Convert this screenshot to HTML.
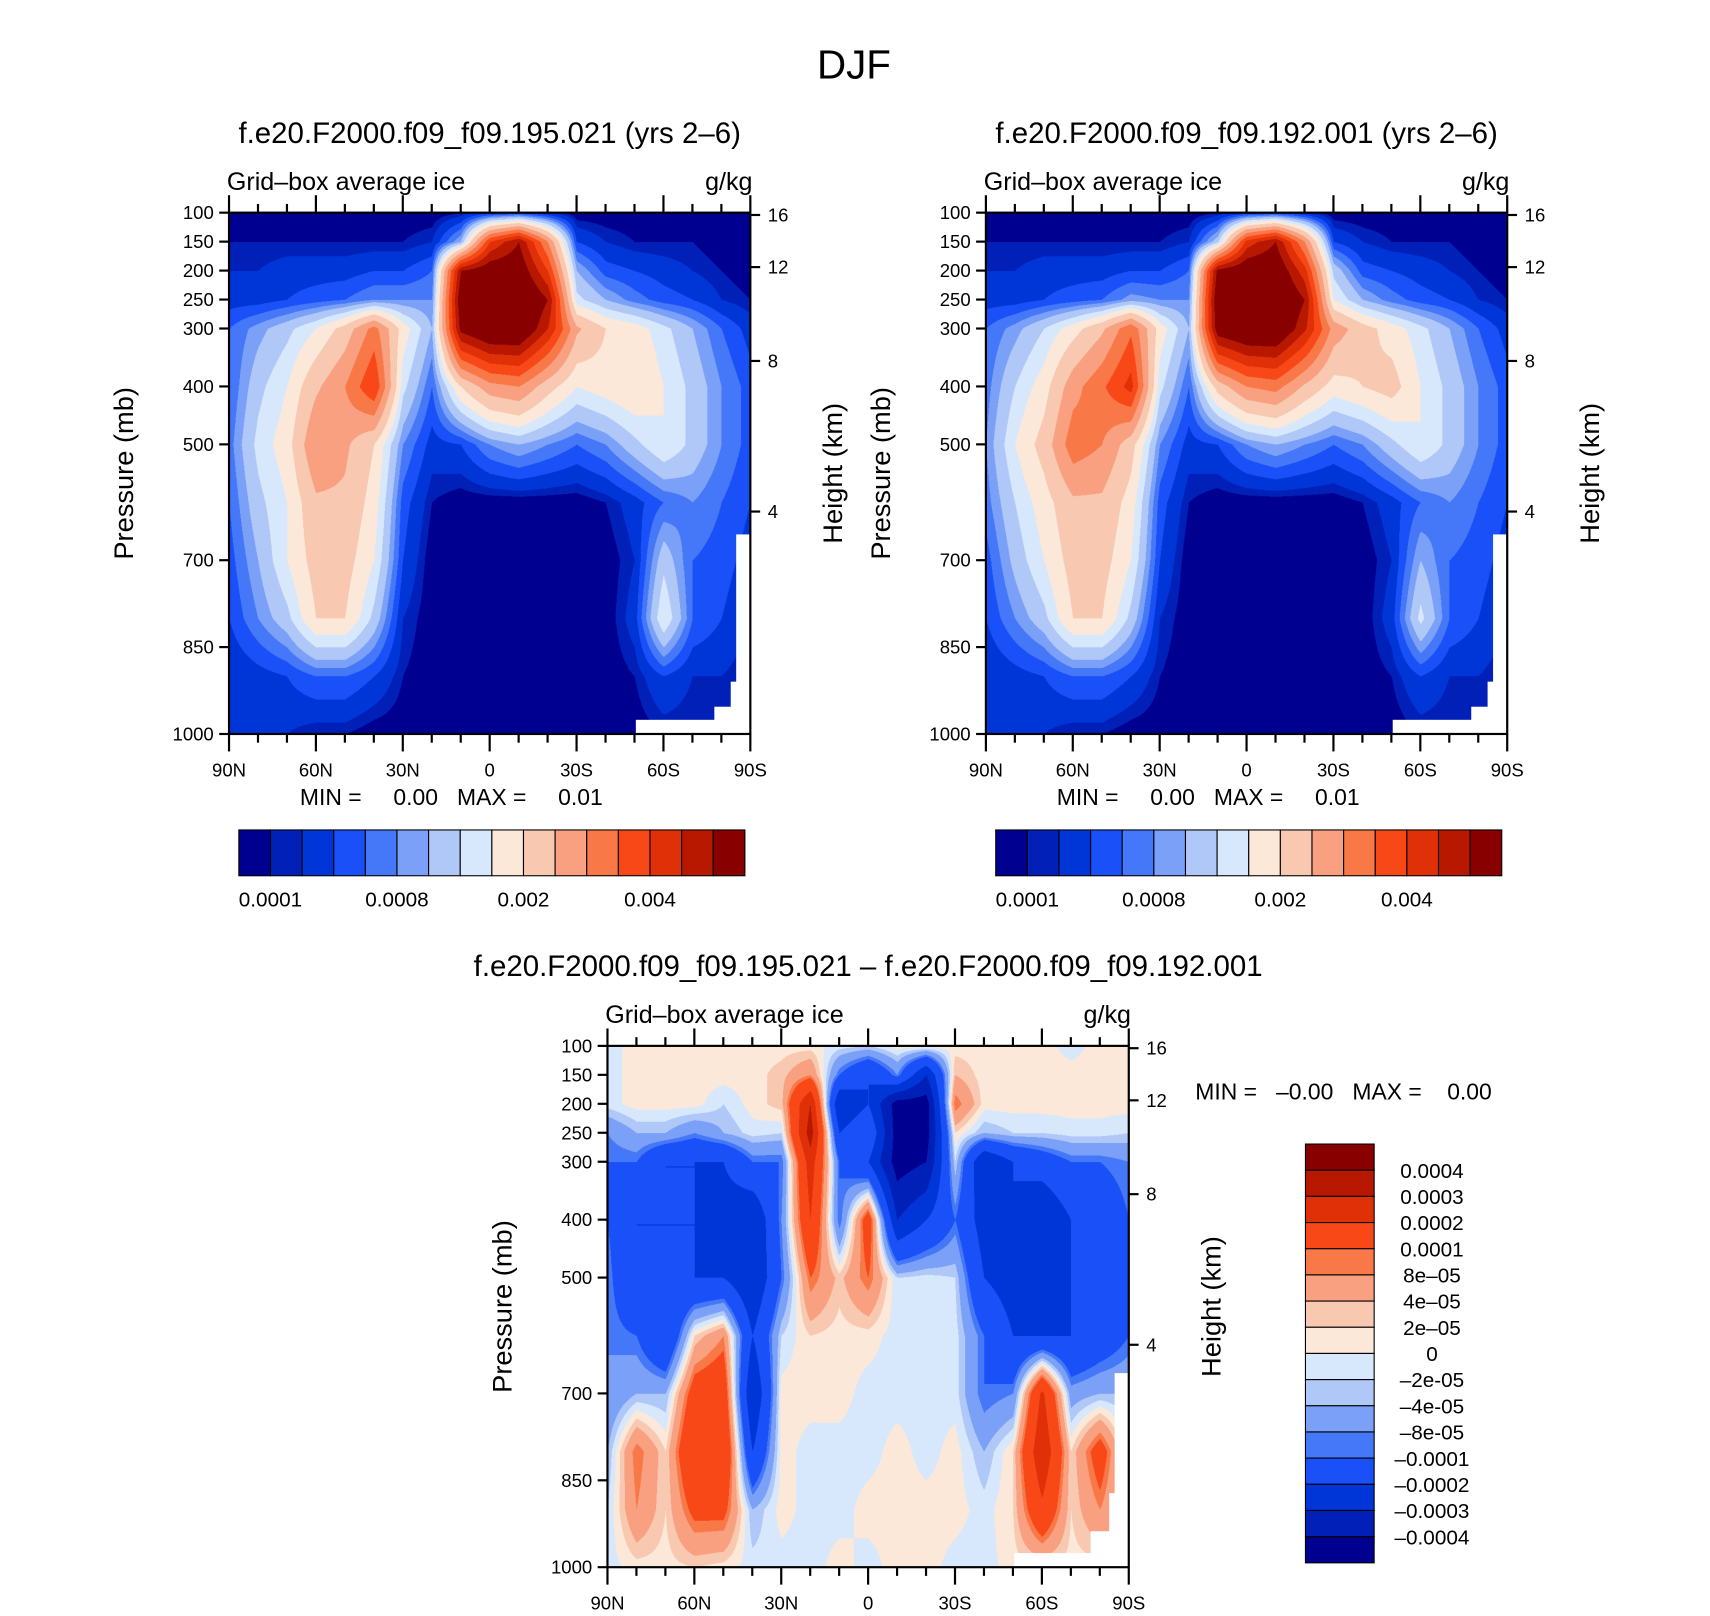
<!DOCTYPE html>
<html><head><meta charset="utf-8">
<style>
html,body{margin:0;padding:0;background:#fff;}
body{width:1710px;height:1616px;overflow:hidden;position:relative;}
#root{position:absolute;left:0;top:0;width:1568px;height:1482px;transform:scale(1.0906);transform-origin:0 0;}
canvas{position:absolute;}
svg{position:absolute;left:0;top:0;}
text{font-family:"Liberation Sans",sans-serif;fill:#000;}
</style></head>
<body>
<div id="root">
<canvas id="c1"></canvas>
<canvas id="c2"></canvas>
<canvas id="c3"></canvas>
<svg id="s" width="1568" height="1482" viewBox="0 0 1568 1482"></svg>
</div>
<script>
const lats=[90,80,70,60,50,40,30,20,10,0,-10,-20,-30,-40,-50,-60,-70,-80,-90];
const levels=[100,150,200,250,300,400,500,600,700,800,900,1000];
const colors=["#000090","#0020b8","#0035d8","#1a50f8","#4478f8","#7aa0f8","#b0c8f8","#d8e8fc","#fce8d8","#f8c8b0","#f8a080","#f87848","#f84818","#e03008","#b81800","#880000"];
// panel 1/2 values in units of 1e-4 g/kg
const thrA=[1,2,4,6,8,10,13,16,20,25,30,35,40,45,50];
const cbLabelsA=["0.0001","0.0008","0.002","0.004"];
const cbLabelIdxA=[1,5,9,13];
const dataA=[
[0,0,0,0,0,0,0,0,1,3,4,2,0,0,0,0,0,0,0],
[1,1,1,1,1,1,1,2,10,40,50,30,4,2,1,1,1,0,0],
[2,2,3,3,3,4,4,6,50,55,55,40,10,5,4,3,2,1,0],
[3,3,4,5,6,8,8,8,55,60,60,50,14,10,7,5,4,2,1],
[6,9,12,16,22,32,18,10,52,58,58,45,26,20,18,14,10,6,3],
[6,12,16,24,30,40,14,6,20,28,30,22,16,18,20,16,12,8,5],
[7,14,18,30,26,20,8,3,4,8,10,8,6,8,12,16,12,8,5],
[6,12,16,24,24,18,5,1,0,0,0,0,0,1,3,6,8,6,4],
[5,10,16,22,22,16,4,0,0,0,0,0,0,0,2,12,6,5,3],
[4,8,12,20,20,12,2,0,0,0,0,0,0,0,3,16,6,4,2],
[2,3,4,6,6,4,1,0,0,0,0,0,0,0,1,4,2,2,1],
[2,2,2,1,1,0,0,0,0,0,0,0,0,0,0,1,1,1,1]];
const dataB=[
[0,0,0,0,0,0,0,0,1,3,4,2,0,0,0,0,0,0,0],
[1,1,1,1,1,1,1,2,12,42,50,30,4,2,1,1,1,0,0],
[2,2,3,3,3,4,4,6,52,56,56,42,12,5,4,3,2,1,0],
[3,3,4,5,6,9,8,8,56,60,60,50,16,10,7,5,4,2,1],
[6,9,13,18,24,34,18,10,54,58,58,46,28,22,18,14,10,6,3],
[7,13,18,28,34,42,14,6,22,30,32,24,18,20,22,16,12,8,5],
[8,16,22,33,30,22,8,3,4,8,10,8,6,8,12,16,12,8,5],
[7,13,18,24,24,18,5,1,0,0,0,0,0,1,3,6,8,6,4],
[5,11,16,22,22,16,4,0,0,0,0,0,0,0,2,10,6,5,3],
[4,8,12,20,20,12,2,0,0,0,0,0,0,0,3,14,6,4,2],
[2,3,4,6,6,4,1,0,0,0,0,0,0,0,1,4,2,2,1],
[2,2,2,1,1,0,0,0,0,0,0,0,0,0,0,1,1,1,1]];
// difference values in units of 1e-5 g/kg
const thrD=[-40,-30,-20,-10,-8,-4,-2,0,2,4,8,10,20,30,40];
const cbLabelsD=["-0.0004","-0.0003","-0.0002","-0.0001","-8e-05","-4e-05","-2e-05","0","2e-05","4e-05","8e-05","0.0001","0.0002","0.0003","0.0004"];
const dataD=[
[-1,1,1,1,1,1,1,1,-1,-2,1,1,1,1,1,1,-1,1,1],
[-1,1,1,1,1,1,3,8,-10,-20,-8,-30,4,1,1,1,1,1,1],
[-1,1,1,1,-2,1,3,30,-30,-20,-45,-45,10,1,1,1,1,1,1],
[-8,-4,-4,-8,-4,-1,-2,35,-20,-10,-45,-45,2,-4,-2,-2,-1,-1,-2],
[-10,-10,-20,-20,-20,-10,-10,25,-10,-20,-45,-40,-2,-30,-20,-15,-10,-10,-8],
[-10,-20,-20,-20,-25,-30,-8,20,-10,15,-30,-20,-10,-25,-20,-30,-20,-15,-10],
[-8,-20,-20,-20,-20,-30,-10,10,3,10,-2,-1,-2,-20,-25,-30,-20,-20,-10],
[-8,-10,-20,2,8,-20,-2,2,1,1,-1,-1,-1,-10,-20,-20,-20,-15,-10],
[-8,-4,-4,14,16,-30,1,1,1,-1,-1,-1,-1,-10,-8,22,-6,-4,-4],
[-4,10,2,20,20,-20,1,-1,-1,-1,1,-1,1,-4,2,28,2,14,-2],
[-2,8,2,12,12,-4,1,-1,-1,1,1,1,1,-1,2,18,2,8,1],
[-1,1,1,2,1,-1,-1,-1,1,-1,1,1,-1,-1,1,1,1,1,1]];
const pTicks=[100,150,200,250,300,400,500,700,850,1000];
const hTicks=["16","12","8","4"];
const hTickP=[104,194,356,616];
const xTickLats=[90,60,30,0,-30,-60,-90];
const xTickLabels=["90N","60N","30N","0","30S","60S","90S"];
const W=478,H=478;
const NS="http://www.w3.org/2000/svg";
const svg=document.getElementById('s');
function el(tag,attrs,parent,txt){const e=document.createElementNS(NS,tag);for(const k in attrs)e.setAttribute(k,attrs[k]);if(txt!==undefined)e.textContent=txt;(parent||svg).appendChild(e);return e;}
function xs(x0,lat){return x0+(90-lat)/180*W;}
function ys(y0,p){return y0+(p-100)/900*H;}
function sample(data,lat,p){
  let fi=(90-lat)/10;let i=Math.min(17,Math.max(0,Math.floor(fi)));let fx=fi-i;
  let j=0;while(j<levels.length-2&&p>levels[j+1])j++;
  let fy=(p-levels[j])/(levels[j+1]-levels[j]);
  const a=data[j][i],b=data[j][i+1],c=data[j+1][i],d=data[j+1][i+1];
  return (a*(1-fx)+b*fx)*(1-fy)+(c*(1-fx)+d*fx)*fy;
}
function cls(v,thr){let k=0;while(k<thr.length&&v>=thr[k])k++;return k;}
const rgb=colors.map(c=>[parseInt(c.substr(1,2),16),parseInt(c.substr(3,2),16),parseInt(c.substr(5,2),16)]);
function drawField(id,x0,y0,data,thr,mask){
  const cv=document.getElementById(id);const S=2;
  cv.width=W*S;cv.height=H*S;cv.style.left=x0+'px';cv.style.top=y0+'px';cv.style.width=W+'px';cv.style.height=H+'px';
  const ctx=cv.getContext('2d');const img=ctx.createImageData(W*S,H*S);
  for(let py=0;py<H*S;py++){const p=100+(py/S)/H*900;
    for(let px=0;px<W*S;px++){const lat=90-(px/S)/W*180;
      const k=cls(sample(data,lat,p),thr);const o=(py*W*S+px)*4;
      img.data[o]=rgb[k][0];img.data[o+1]=rgb[k][1];img.data[o+2]=rgb[k][2];img.data[o+3]=255;}}
  ctx.putImageData(img,0,0);
  ctx.fillStyle='#fff';ctx.scale(S,S);
  ctx.beginPath();mask.forEach((q,i)=>{i?ctx.lineTo(q[0],q[1]):ctx.moveTo(q[0],q[1]);});ctx.closePath();ctx.fill();
}
function axes(x0,y0,title,pfx){
  const g=el('g',{});
  el('rect',{x:x0,y:y0,width:W,height:H,fill:'none',stroke:'#000','stroke-width':2,},g);
  pTicks.forEach(p=>{const y=ys(y0,p);el('line',{x1:x0-9,x2:x0,y1:y,y2:y,stroke:'#000','stroke-width':2},g);
    el('text',{x:x0-14,y:y+6,'text-anchor':'end','font-size':17,},g,String(p));});
  hTicks.forEach((h,i)=>{const y=ys(y0,hTickP[i]);el('line',{x1:x0+W,x2:x0+W+9,y1:y,y2:y,stroke:'#000','stroke-width':2},g);
    el('text',{x:x0+W+16,y:y+6,'font-size':17,},g,h);});
  for(let lat=90;lat>=-90;lat-=10){const x=xs(x0,lat);const big=lat%30===0;const L=big?16:8;
    el('line',{x1:x,x2:x,y1:y0+H,y2:y0+H+L,stroke:'#000','stroke-width':2},g);
    el('line',{x1:x,x2:x,y1:y0,y2:y0-L,stroke:'#000','stroke-width':2},g);}
  xTickLats.forEach((lat,i)=>el('text',{x:xs(x0,lat),y:y0+H+39,'text-anchor':'middle','font-size':17,},g,xTickLabels[i]));
  el('text',{x:x0+W/2,y:y0-64,'text-anchor':'middle','font-size':27,},g,title);
  el('text',{x:x0-2,y:y0-21,'font-size':23,},g,'Grid\u2013box average ice');
  el('text',{x:x0+W+2,y:y0-21,'text-anchor':'end','font-size':23,},g,'g/kg');
  el('text',{transform:`translate(${x0-88},${y0+H/2}) rotate(-90)`,'text-anchor':'middle','font-size':25,},g,'Pressure (mb)');
  el('text',{transform:`translate(${x0+W+84},${y0+H/2}) rotate(-90)`,'text-anchor':'middle','font-size':25,},g,'Height (km)');
}
function hbar(x0,pfx){
  const g=el('g',{});
  const bx=x0+9,by=761,bw=29,bh=42;
  colors.forEach((c,i)=>el('rect',{x:bx+i*bw,y:by,width:bw,height:bh,fill:c,stroke:'#000','stroke-width':1},g));
  cbLabelIdxA.forEach((k,i)=>el('text',{x:bx+k*bw,y:by+70,'text-anchor':'middle','font-size':19,},g,cbLabelsA[i]));
  el('text',{x:x0+65,y:738,'font-size':21,'xml:space':'preserve',style:'white-space:pre',},g,'MIN =     0.00   MAX =     0.01');
}
const maskTop=[[373,478],[373,465],[445,465],[445,453],[460,453],[460,430],[465,430],[465,295],[478,295],[478,478]];
el('text',{x:783,y:72,'text-anchor':'middle','font-size':37,},svg,'DJF');
drawField('c1',210,195,dataA,thrA,maskTop);
drawField('c2',904,195,dataB,thrA,maskTop);
drawField('c3',557,959,dataD,thrD,[[373,478],[373,465],[443,465],[443,445],[460,445],[460,410],[465,410],[465,300],[478,300],[478,478]]);
axes(210,195,'f.e20.F2000.f09_f09.195.021 (yrs 2\u20136)','p1');
axes(904,195,'f.e20.F2000.f09_f09.192.001 (yrs 2\u20136)','p2');
axes(557,959,'f.e20.F2000.f09_f09.195.021 \u2013 f.e20.F2000.f09_f09.192.001','p3');
hbar(210,'p1');hbar(904,'p2');
(function(){
  const g=el('g',{});
  const bx=1197,by=1049,bw=63,bh=24;
  for(let i=0;i<16;i++)el('rect',{x:bx,y:by+i*bh,width:bw,height:bh,fill:colors[15-i],stroke:'#000','stroke-width':1},g);
  for(let k=0;k<15;k++){const y=by+(15-k)*bh;
    el('text',{x:1313,y:y+7,'text-anchor':'middle','font-size':19,},g,cbLabelsD[k].replace('-','\u2013'));}
  el('text',{x:1096,y:1008,'font-size':21,'xml:space':'preserve',style:'white-space:pre',},g,'MIN =   \u20130.00   MAX =    0.00');
})();
</script>
</body></html>
